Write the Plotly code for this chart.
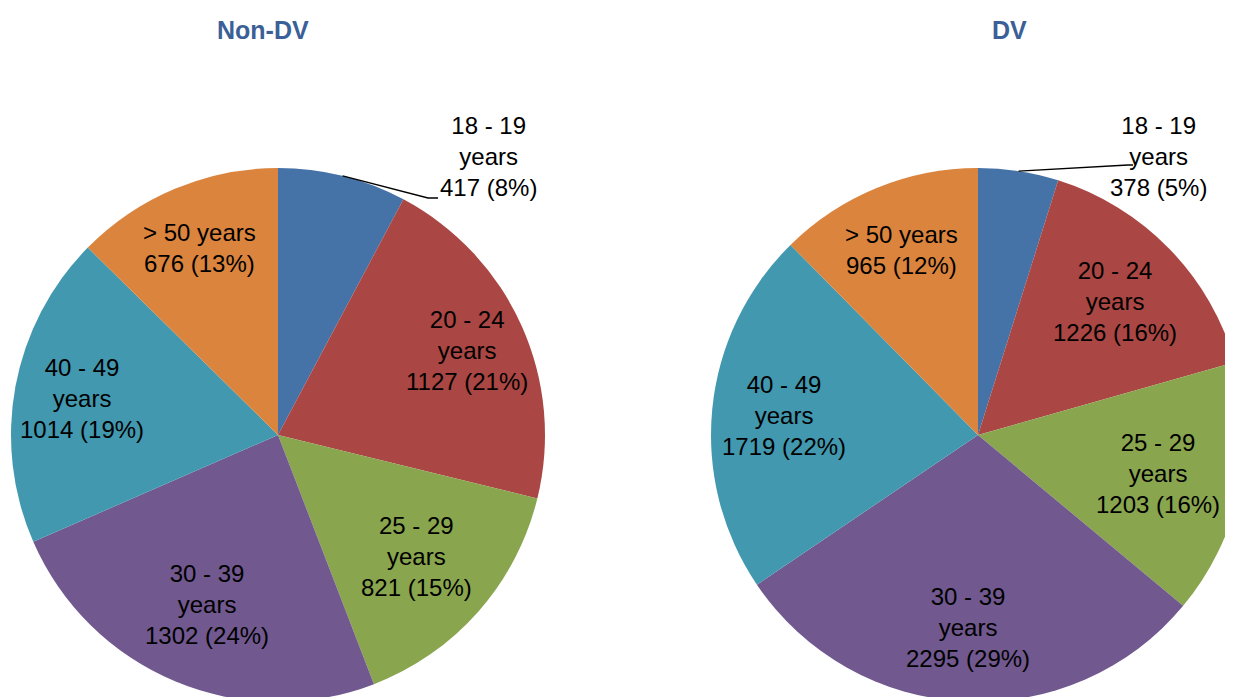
import math
import plotly.graph_objects as go

categories = ["18 - 19 years", "20 - 24 years", "25 - 29 years", "30 - 39 years", "40 - 49 years", "> 50 years"]
label_lines = [["18 - 19", "years"], ["20 - 24", "years"], ["25 - 29", "years"],
               ["30 - 39", "years"], ["40 - 49", "years"], ["> 50 years"]]
nondv_values = [417, 1127, 821, 1302, 1014, 676]
nondv_pct = [8, 21, 15, 24, 19, 13]
dv_values = [378, 1226, 1203, 2295, 1719, 965]
dv_pct = [5, 16, 16, 29, 22, 12]
colors = ["#4572A7", "#AA4643", "#89A54E", "#71588F", "#4198AF", "#DB843D"]

W, H = 1260, 720
OFF = 8  # page body margin
FONT = "Liberation Sans, Arial, sans-serif"
R = 267
centers = [(278, 435), (978, 435)]

def px(x):
    return (x - OFF) / W

def py(y):
    return 1 - (y - OFF) / H

fig = go.Figure()
for (cx, cy), vals, name in zip(centers, [nondv_values, dv_values], ["Non-DV", "DV"]):
    fig.add_trace(go.Pie(
        labels=categories, values=vals, sort=False, direction="clockwise", rotation=0,
        marker=dict(colors=colors, line=dict(width=0)), textinfo="none", hoverinfo="label+value+percent",
        domain=dict(x=[px(cx - R), px(cx + R)], y=[py(cy + R), py(cy - R)]),
        showlegend=False, name=name,
    ))

label_pos = [
    [(489, 157), None, None, None, None, None],
    [(1158, 157), None, None, None, None, None],
]
radial = [
    [None, 0.775, 0.69, 0.69, 0.745, 0.76],
    [None, 0.715, 0.69, 0.72, 0.73, 0.75],
]
leader_end = [[(428, 198), (438, 198)], [(1128, 165), (1133, 165)]]

annotations = []
shapes = []
for i, ((cx, cy), vals, pcts) in enumerate(zip(centers, [nondv_values, dv_values], [nondv_pct, dv_pct])):
    total = sum(vals)
    cum = 0
    for j, v in enumerate(vals):
        frac = v / total
        mid = (cum + frac / 2) * 2 * math.pi
        cum += frac
        text = "<br>".join(label_lines[j] + [f"{v} ({pcts[j]}%)"])
        if label_pos[i][j] is not None:
            tx, ty = label_pos[i][j]
            ex, ey = cx + R * math.sin(mid), cy - R * math.cos(mid)
            (mx, my), (fx, fy) = leader_end[i]
            shapes.append(dict(type="path", xref="paper", yref="paper",
                               path=f"M {px(ex)},{py(ey)} L {px(mx)},{py(my)} L {px(fx)},{py(fy)}",
                               line=dict(color="black", width=1.3)))
        else:
            rr = radial[i][j] * R
            tx, ty = cx + rr * math.sin(mid), cy - rr * math.cos(mid)
        annotations.append(dict(x=px(tx), y=py(ty), xref="paper", yref="paper", text=text,
                                showarrow=False, xanchor="center", yanchor="middle", align="center",
                                font=dict(family=FONT, size=24, color="black")))

for title, tx in [("Non-DV", 263), ("DV", 1010)]:
    annotations.append(dict(x=px(tx), y=py(30), xref="paper", yref="paper", text=f"<b>{title}</b>",
                            showarrow=False, xanchor="center", yanchor="middle",
                            font=dict(family=FONT, size=25, color="#3B5F97")))

fig.update_layout(width=W, height=H, margin=dict(l=0, r=0, t=0, b=0),
                  paper_bgcolor="white", plot_bgcolor="white",
                  annotations=annotations, shapes=shapes)
fig.write_html("out.html")
